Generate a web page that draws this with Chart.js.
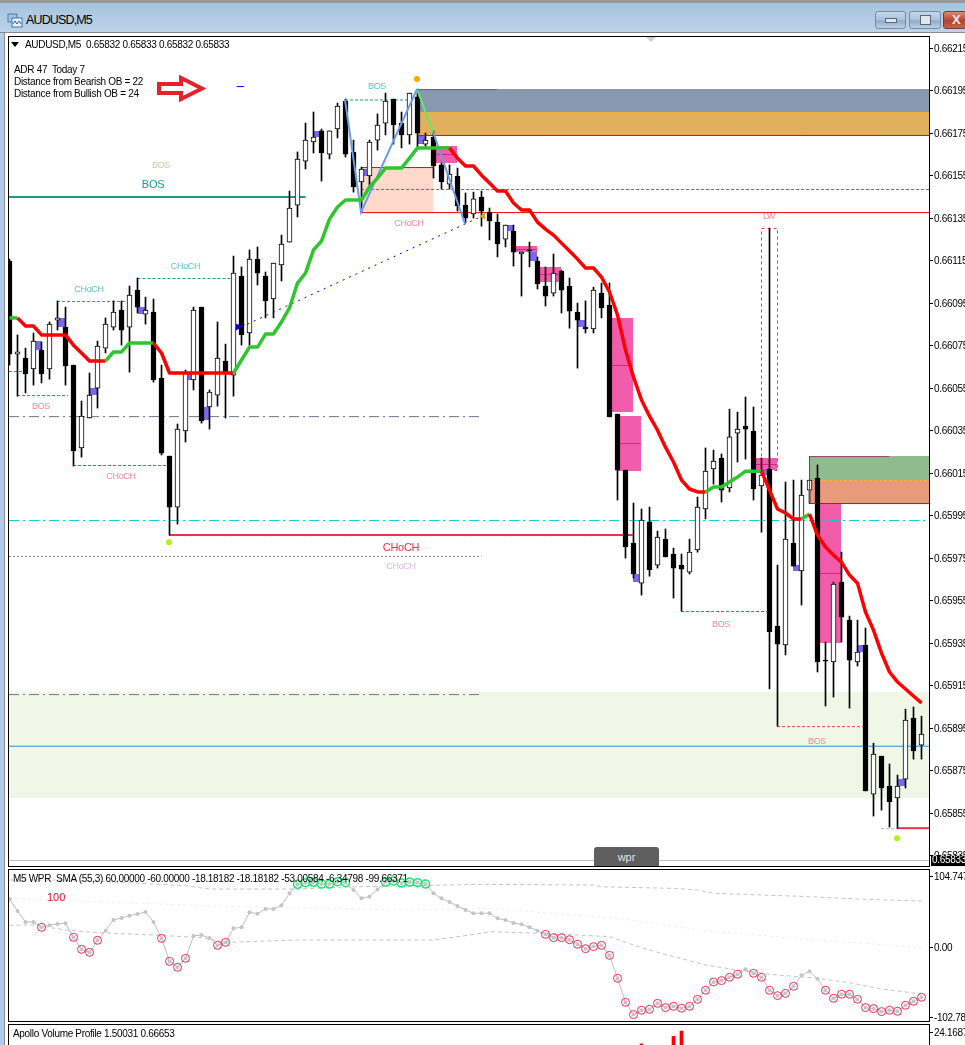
<!DOCTYPE html>
<html>
<head>
<meta charset="utf-8">
<title>AUDUSD,M5</title>
<script src="https://cdn.jsdelivr.net/npm/chart.js@4/dist/chart.umd.min.js"></script>
<style>
  html, body { margin: 0; width: 965px; height: 1045px; overflow: hidden; background: #fff; }
  body { position: relative; font: 10px 'Liberation Sans', sans-serif; letter-spacing: -.31px; color: #000; }
  canvas { position: absolute; left: 0; }
  .abs { position: absolute; white-space: pre; }
  .frame { position: absolute; box-sizing: border-box; border: 1px solid #000; pointer-events: none; }
  #titlebar { left: 0; top: 0; width: 965px; height: 33px; box-sizing: border-box;
    border-top: 3px solid #9a9a9a; border-bottom: 1px solid #8a8a8a;
    background: linear-gradient(#a6c3de, #bdd3e9); }
  #leftstrip { left: 0; top: 33px; width: 4px; height: 1012px; background: #b4cce8; border-right: 1px solid #8a8a8a; }
  .btn { position: absolute; top: 11px; height: 18px; box-sizing: border-box; border: 1px solid #7a8ca4; border-radius: 3px;
    background: linear-gradient(#c8d8ea 0%, #a9c1da 50%, #90abc8 55%, #bcd0e4 100%); }
  .btn i { position: absolute; display: block; box-sizing: border-box; background: #dfe6ee; border: 1px solid #5a6878; }
  #wprbtn { left: 594px; top: 847px; width: 65px; height: 19px; background: #5f5f5f; color: #e4e4e4; border-radius: 3px 3px 0 0;
    text-align: center; line-height: 20px; font-size: 11px; letter-spacing: 0; }
</style>
</head>
<body>
<div class="abs" id="titlebar"></div>
<div class="abs" id="leftstrip"></div>
<svg class="abs" style="left:7px;top:13px" width="16" height="15" viewBox="0 0 16 15">
  <rect x="1" y="1" width="9" height="8" fill="#9cc0e6" stroke="#4d7fb8"/>
  <rect x="5" y="5" width="10" height="9" fill="#e8f2fb" stroke="#3f74b0"/>
  <path d="M6 11 l2 -3 l2 3 l2 -3 l2 3" fill="none" stroke="#2a62a4"/>
</svg>
<div class="abs" style="left:26px;top:13px;font-size:12.5px;letter-spacing:-.85px">AUDUSD,M5</div>
<div class="btn" style="left:875px;width:31px"><i style="left:9px;top:6px;width:12px;height:5px"></i></div>
<div class="btn" style="left:909px;width:32px"><i style="left:10px;top:3px;width:11px;height:10px"></i></div>
<div class="btn" style="left:943px;width:24px;background:linear-gradient(#d98a78,#b8402c 55%,#c4644f);border-color:#7a3a30;color:#eee;font:bold 13px 'Liberation Sans';letter-spacing:0;line-height:15px;padding-left:8px">X</div>

<canvas id="mainChart" width="965" height="867" style="top:0"></canvas>
<canvas id="wprChart" width="965" height="153" style="top:869px"></canvas>
<canvas id="volChart" width="965" height="21" style="top:1024px"></canvas>

<div class="frame" style="left:8px;top:36px;width:922px;height:831px"></div>
<div class="frame" style="left:8px;top:869px;width:922px;height:153px"></div>
<div class="frame" style="left:8px;top:1024px;width:922px;height:40px"></div>

<svg class="abs" style="left:11px;top:42px" width="9" height="6"><path d="M0 0 H8 L4 5 Z" fill="#000"/></svg>
<div class="abs" style="left:25px;top:39px">AUDUSD,M5  0.65832 0.65833 0.65832 0.65833</div>
<div class="abs" style="left:14px;top:64px">ADR 47  Today 7</div>
<div class="abs" style="left:14px;top:76px">Distance from Bearish OB = 22</div>
<div class="abs" style="left:14px;top:88px">Distance from Bullish OB = 24</div>
<svg class="abs" style="left:155px;top:73px" width="52" height="32">
  <path d="M4 11 H26 V5 L47 15.5 L26 26 V20 H4 Z" fill="#fff" stroke="#e8202c" stroke-width="4"/>
</svg>
<svg class="abs" style="left:646px;top:37px" width="11" height="6"><path d="M0 0 H10 L5 5 Z" fill="#cfcfcf"/></svg>
<div class="abs" id="wprbtn">wpr</div>
<div class="abs" style="left:13px;top:873px">M5 WPR  SMA (55,3) 60.00000 -60.00000 -18.18182 -18.18182 -53.00584 -6.34798 -99.66371</div>
<div class="abs" style="left:47px;top:891px;color:#f01030;font-size:11px;letter-spacing:0">100</div>
<div class="abs" style="left:13px;top:1028px">Apollo Volume Profile 1.50031 0.66653</div>

<script>
/* ── candles ── */
const opens = [0.661148,0.660710,0.660691,0.660640,0.660729,0.660640,0.660870,0.660837,0.660658,0.660268,0.660409,0.660550,0.660738,0.660837,0.660917,0.660837,0.661011,0.660898,0.660908,0.660597,0.660230,0.659990,0.660348,0.660588,0.660931,0.660461,0.660517,0.660677,0.660611,0.661077,0.660809,0.661157,0.661077,0.660969,0.661129,0.661237,0.661411,0.661618,0.661708,0.661760,0.661651,0.661769,0.661901,0.661661,0.661520,0.661548,0.661717,0.661797,0.661910,0.661797,0.661741,0.661920,0.661698,0.661731,0.661600,0.661510,0.661548,0.661411,0.661369,0.661449,0.661378,0.661331,0.661251,0.661289,0.661181,0.661200,0.661148,0.661030,0.660997,0.661101,0.661030,0.660908,0.660837,0.660828,0.660997,0.660941,0.660428,0.660164,0.659821,0.659632,0.659920,0.659717,0.659839,0.659769,0.659717,0.659684,0.659788,0.659981,0.660169,0.660221,0.660080,0.660338,0.660371,0.660348,0.660089,0.660169,0.659430,0.659341,0.659821,0.659689,0.660070,0.660126,0.659270,0.659261,0.659637,0.659458,0.659261,0.659341,0.658639,0.658818,0.658677,0.658621,0.658710,0.658997,0.658870];
const highs = [0.661157,0.660800,0.660738,0.660809,0.660767,0.660861,0.660960,0.660931,0.660658,0.660489,0.660621,0.660771,0.660880,0.660960,0.660960,0.661030,0.661068,0.660978,0.660969,0.660658,0.660230,0.660381,0.660635,0.660931,0.660931,0.660541,0.660861,0.660757,0.661171,0.661120,0.661200,0.661214,0.661096,0.661138,0.661270,0.661477,0.661661,0.661797,0.661849,0.661769,0.661760,0.661891,0.661910,0.661717,0.661590,0.661717,0.661840,0.661938,0.661910,0.661849,0.661938,0.661957,0.661750,0.661760,0.661609,0.661600,0.661585,0.661468,0.661472,0.661477,0.661397,0.661369,0.661317,0.661317,0.661190,0.661237,0.661167,0.661120,0.661181,0.661105,0.661068,0.660950,0.660960,0.661025,0.661044,0.661044,0.660428,0.660164,0.660009,0.659981,0.659990,0.659877,0.659887,0.659797,0.659769,0.659839,0.660037,0.660268,0.660258,0.660240,0.660451,0.660437,0.660508,0.660461,0.660221,0.661303,0.659717,0.660108,0.660117,0.660117,0.660117,0.660188,0.659355,0.659637,0.659778,0.659477,0.659458,0.659421,0.658879,0.658818,0.658781,0.658729,0.659039,0.659049,0.659006];
const lows = [0.660658,0.660512,0.660527,0.660564,0.660574,0.660592,0.660823,0.660564,0.660183,0.660225,0.660409,0.660456,0.660715,0.660823,0.660752,0.660625,0.660903,0.660851,0.660578,0.660235,0.659858,0.659910,0.660296,0.660541,0.660385,0.660357,0.660465,0.660409,0.660512,0.660752,0.660752,0.661035,0.660880,0.660880,0.661054,0.661237,0.661355,0.661581,0.661656,0.661524,0.661628,0.661727,0.661637,0.661472,0.661378,0.661496,0.661670,0.661741,0.661698,0.661680,0.661698,0.661680,0.661680,0.661538,0.661487,0.661487,0.661383,0.661327,0.661350,0.661312,0.661247,0.661167,0.661214,0.661124,0.660983,0.661120,0.661016,0.660936,0.660983,0.660903,0.660832,0.660644,0.660809,0.660809,0.660880,0.660414,0.660023,0.659750,0.659656,0.659576,0.659665,0.659703,0.659755,0.659562,0.659501,0.659675,0.659778,0.659934,0.660098,0.660014,0.660061,0.660202,0.660216,0.660023,0.659872,0.659134,0.658959,0.659294,0.659712,0.659529,0.660009,0.659214,0.659054,0.659096,0.659355,0.659044,0.659242,0.658654,0.658536,0.658564,0.658484,0.658479,0.658668,0.658804,0.658804];
const closes = [0.660710,0.660720,0.660616,0.660771,0.660616,0.660851,0.660880,0.660654,0.660254,0.660418,0.660517,0.660748,0.660851,0.660908,0.660823,0.660988,0.660931,0.660917,0.660588,0.660244,0.659990,0.660357,0.660621,0.660917,0.660395,0.660531,0.660691,0.660621,0.661091,0.660800,0.661157,0.661091,0.660960,0.661138,0.661228,0.661397,0.661628,0.661717,0.661731,0.661656,0.661760,0.661877,0.661651,0.661496,0.661581,0.661708,0.661788,0.661901,0.661788,0.661741,0.661938,0.661750,0.661717,0.661595,0.661520,0.661557,0.661407,0.661350,0.661440,0.661383,0.661336,0.661228,0.661317,0.661190,0.661190,0.661195,0.661040,0.660983,0.661091,0.661011,0.660912,0.660870,0.660828,0.661011,0.660927,0.660414,0.660164,0.659802,0.659675,0.659929,0.659694,0.659849,0.659755,0.659703,0.659698,0.659778,0.659990,0.660159,0.660207,0.660070,0.660320,0.660357,0.660357,0.660075,0.660141,0.659402,0.659345,0.659839,0.659712,0.660047,0.660117,0.659261,0.659265,0.659628,0.659472,0.659270,0.659308,0.658654,0.658828,0.658668,0.658602,0.658677,0.658988,0.658842,0.658922];

/* trend moving average, green while inside a bull run */
const maLine = [0.660880,0.660880,0.660842,0.660842,0.660800,0.660800,0.660800,0.660800,0.660752,0.660715,0.660677,0.660677,0.660677,0.660720,0.660720,0.660762,0.660762,0.660762,0.660762,0.660715,0.660621,0.660621,0.660621,0.660621,0.660621,0.660621,0.660621,0.660621,0.660621,0.660682,0.660743,0.660743,0.660804,0.660804,0.660861,0.660927,0.661044,0.661091,0.661200,0.661242,0.661345,0.661402,0.661435,0.661435,0.661435,0.661496,0.661538,0.661585,0.661585,0.661585,0.661632,0.661680,0.661680,0.661680,0.661680,0.661680,0.661632,0.661595,0.661595,0.661552,0.661515,0.661477,0.661477,0.661421,0.661388,0.661388,0.661331,0.661298,0.661270,0.661232,0.661195,0.661157,0.661115,0.661115,0.661072,0.661002,0.660894,0.660729,0.660602,0.660494,0.660418,0.660352,0.660272,0.660202,0.660117,0.660075,0.660061,0.660061,0.660084,0.660084,0.660108,0.660131,0.660159,0.660159,0.660159,0.660070,0.659981,0.659962,0.659934,0.659934,0.659957,0.659858,0.659802,0.659764,0.659731,0.659670,0.659632,0.659496,0.659411,0.659303,0.659214,0.659167,0.659134,0.659101,0.659068];
const maBullRuns = [[0, 1], [12, 18], [28, 55], [87, 94], [99, 100]];

const priceTicks = [0.66215,0.66195,0.66175,0.66155,0.66135,0.66115,0.66095,0.66075,0.66055,0.66035,0.66015,0.65995,0.65975,0.65955,0.65935,0.65915,0.65895,0.65875,0.65855,0.65835];
const lastPrice = 0.658329;
const lastPriceLabel = '0.65833';

/* levels as [candle from, candle to, price] */
const START = -0.0625, END = 114.9375;
const redDashLevels = [[START,1.94,0.660630],[0.94,7.31,0.660517],[7.94,19.56,0.660188],[43.94,END,0.661487],[83.94,94.69,0.659501],[95.94,106.69,0.658959]];
const tealDashLevels = [[5.94,15,0.660960],[16,27.6,0.661068],[41.94,50.94,0.661908]];
const tealSolidLevels = [[START,37,0.661449]];
const slateDashDotLevels = [[START,59,0.660418],[START,59,0.659110]];
const cyanDashDotLevels = [[START,END,0.659929]];
const grayDashLevels = [[START,59,0.659760]];
const crimsonLevels = [[19.94,77.9,0.659858],[110.94,END,0.658479]];
const pinkDashLevels = [[19.94,77.9,0.659858],[108.94,110.94,0.658479]];
const redSolidLevels = [[43.94,END,0.661378],[43.94,52.94,0.661590],[50.94,END,0.661741],[99.94,END,0.660009]];
const zoneTopLevels = [[50.94,60.94,0.661957],[99.94,109.94,0.660230]];
const yellowDashLevels = [[50.94,END,0.661849],[99.94,END,0.660117]];
const bidLevels = [[START,END,lastPrice]];
const askLevels = [[START,END,0.658867]];
const blueTick = [[28.4,29.3,0.661971]];
const redTick = [[28.6,29.4,0.660851]];

/* zones as [candle from, candle to, top price, bottom price] */
const peachZones = [[43.94,52.94,0.661590,0.661378]];
const slateZones = [[50.94,END,0.661957,0.661849]];
const amberZones = [[50.94,END,0.661849,0.661741]];
const sageZones = [[99.94,END,0.660230,0.660117]];
const salmonZones = [[99.94,END,0.660117,0.660009]];
const paleZones = [[START,END,0.659119,0.658620]];
const pinkZones = [[52.94,55.94,0.661689,0.661609],[63.3,65.94,0.661218,0.661190],[66.3,68.94,0.661120,0.661049],[74.94,77.94,0.660880,0.660437],[75.94,78.94,0.660418,0.660159],[93.31,95.94,0.660221,0.660164],[101.31,103.94,0.660009,0.659350]];
const pinkMids = [0.661651,0.661204,0.661087,0.660658,0.660291,0.660192,0.659680];
const violetBoxes = [[3.31,3.94,0.660771,0.660729],[5.94,6.94,0.660880,0.660837],[10.06,10.94,0.660550,0.660517],[16.06,16.94,0.660931,0.660898],[22.31,22.94,0.660616,0.660588],[24.31,24.94,0.660461,0.660399],[37.94,38.81,0.661760,0.661731],[44.19,44.69,0.661581,0.661548],[50.94,51.94,0.661741,0.661698],[62.31,62.94,0.661317,0.661289],[65.06,65.94,0.661190,0.661148],[71.06,71.94,0.660870,0.660837],[77.94,78.69,0.659675,0.659637],[93.94,94.69,0.660169,0.660141],[97.94,98.69,0.659717,0.659689],[105.94,106.69,0.659341,0.659308],[111.06,111.94,0.658710,0.658677]];
const lwBox = [93.94,95.94,0.661303,0.660164];
const sideLine = [[100,0.660230],[100,0.660009]];

/* zigzag and markers as [candle, price] */
const zigzagBlueA = [[41.94,0.661906],[43.94,0.661378],[50.94,0.661957]];
const zigzagGreen = [[50.94,0.661957],[52.94,0.661755]];
const zigzagBlueB = [[52.94,0.661755],[56.94,0.661322]];
const trendDotted = [[28.94,0.660837],[59.06,0.661359]];
const swingHighDots = [[50.94,0.662004]];
const swingLowDots = [[19.94,0.659825],[110.94,0.658432]];
const goldMarker = [[59.19,0.661359]];
const blueMarker = [[28.56,0.660837]];

/* text on the chart as [text, candle, price] */
const tealLabels = [['CHoCH',22,0.661124],['CHoCH',9.94,0.661016],['BOS',45.94,0.661967]];
const pinkLabels = [['BOS',3.94,0.660461],['CHoCH',13.94,0.660136],['CHoCH',49.94,0.661322],['BOS',88.94,0.659435],['LW',94.94,0.661355],['BOS',100.94,0.658889]];
const paleGreenLabels = [['BOS',18.94,0.661595]];
const paleVioletLabels = [['CHoCH',48.94,0.659712]];
const bigTealLabels = [['BOS',17.94,0.661505]];
const bigRedLabels = [['CHoCH',48.94,0.659797]];

/* ── WPR pane ── */
const wprValues = [70.5,53.4,37.2,37.2,29.4,32.3,34.3,35.3,14.7,-3,-7.4,10.3,24.5,40.2,43.1,46.5,49,51.9,37.2,13.2,-20.6,-29.4,-16.2,16.6,18.1,13.7,2.9,7.3,27.9,29.4,51.4,49.5,56.3,56.3,61.7,79.4,92.6,95,95.5,93,93,96.5,95,84.3,72,74.5,85.2,96,97.5,94.5,96,95,93,79.4,72,66.6,60.7,54.9,50,50,50,42.6,40.2,35.7,33.8,29.4,24.5,19.1,14.2,14.2,11.2,4.4,-2,1,2.9,-11.8,-45.6,-80.9,-99,-92.6,-91.2,-82.4,-88.7,-86.8,-89.7,-86.8,-76.5,-63.2,-51,-49,-44.1,-39.7,-32.4,-38.3,-44.1,-63.2,-71.1,-67.7,-57.4,-41.2,-35.3,-46.1,-63.2,-75,-69.1,-69.1,-76.5,-88.7,-90.2,-94.6,-92.6,-94.1,-85.3,-79.4,-73.5];
const wprRedRings = [4,8,9,10,11,19,20,21,22,26,27,67,68,69,70,71,72,73,74,75,76,77,78,79,80,81,82,83,84,85,86,87,88,89,90,91,93,94,95,96,97,98,102,103,104,105,106,107,108,109,110,111,112,113,114];
const wprGreenRings = [36,37,38,39,40,41,42,47,48,49,50,51,52];
const wprUpperBand = [[0,99],[6,99],[14,95.5],[22,90.6],[25,85.7],[36,85.7],[42,88.7],[59,92.6],[73,91.6],[74,89],[83,86.7],[86,84.3],[88,79.4],[100,74.5],[106,71],[114,68]];
const wprLowerBand = [[0,32.3],[3,32.8],[7,25.5],[11,21.5],[18,18.1],[24,14.2],[27,7.3],[36,10.8],[45,10.8],[53,10.8],[59,20.5],[60,23],[67,20.5],[75,15.7],[78,3.4],[81,-7.4],[87,-26],[91,-33.4],[95,-39.7],[101,-45.6],[105,-52],[109,-61.3],[114,-68.6]];
const wprMidBand = [[0,72],[28,59.8],[49,54.9],[60,57.3],[76,42.6],[88,23],[101,10.8],[114,-0.5]];
const wprTicks = [104.747, 0, -102.787];
const wprTickLabels = ['104.747', '0.00', '-102.787'];

/* ── volume pane, only the tops of the bars are on screen ── */
const volIndex = [79, 83, 84];
const volValues = [19.9, 22.6, 24.5];
const volTicks = [24.1687];

const FONT = "'Liberation Sans', sans-serif";
const HALF_PIXEL = 0.00000235; // half a screen row in price, keeps 1px levels crisp
const xAxis = () => ({ type: 'linear', display: false, offset: false, min: START, max: END });
const rightAxis = (ticks, min, max, label) => ({
  type: 'linear',
  position: 'right',
  min, max,
  afterFit: scale => { scale.width = 36; scale.paddingTop = 0; scale.paddingBottom = 0; },
  afterBuildTicks: scale => { scale.ticks = ticks.map(value => ({ value })); },
  border: { display: false },
  grid: { drawOnChartArea: false, drawTicks: true, tickLength: 4, color: '#000' },
  ticks: { color: '#000', padding: 1, labelOffset: 1, autoSkip: false, maxRotation: 0, font: { family: FONT, size: 10 }, callback: label },
});
const baseOptions = padding => ({
  responsive: false,
  animation: false,
  events: [],
  layout: { autoPadding: false, padding },
  plugins: { legend: { display: false }, tooltip: { enabled: false } },
});

// every segment gets its own two point line
function levelSets(segments, style) {
  const nudge = style.borderWidth === 1 ? HALF_PIXEL : 0;
  return segments.map(([from, to, price]) => ({
    type: 'line',
    data: [{ x: from, y: price - nudge }, { x: to, y: price - nudge }],
    pointRadius: 0,
    borderCapStyle: 'butt',
    order: 5,
    ...style,
  }));
}
function pathSet(points, style) {
  return {
    type: 'line',
    data: points.map(([x, y]) => ({ x, y })),
    pointRadius: 0,
    order: 3,
    ...style,
  };
}
function markerSet(points, style) {
  return { type: 'line', showLine: false, data: points.map(([x, y]) => ({ x, y })), order: 1, ...style };
}

// ── Plugin: zones under the candles ──
const zonesPlugin = {
  id: 'zones',
  beforeDatasetsDraw(chart) {
    const { ctx, scales: { x, y } } = chart;
    const fill = (boxes, color) => {
      ctx.fillStyle = color;
      boxes.forEach(([a, b, top, bottom]) => {
        const left = Math.round(x.getPixelForValue(a));
        const right = Math.round(x.getPixelForValue(b));
        const t = Math.round(y.getPixelForValue(top));
        ctx.fillRect(left, t, right - left, Math.round(y.getPixelForValue(bottom)) - t);
      });
    };
    ctx.save();
    fill(paleZones, '#f1f7e7');
    fill(peachZones, '#ffd9cc');
    fill(slateZones, '#8898ae');
    fill(amberZones, '#e1b05c');
    fill(sageZones, '#8fbb8f');
    fill(salmonZones, '#ea9a7c');
    fill(pinkZones, '#f25cab');
    fill(violetBoxes, '#7b68ee');
    ctx.fillStyle = '#e0208a';
    pinkZones.forEach(([a, b], i) => {
      const left = Math.round(x.getPixelForValue(a));
      ctx.fillRect(left, Math.round(y.getPixelForValue(pinkMids[i])), Math.round(x.getPixelForValue(b)) - left, 1);
    });
    // LW box
    const [a, b, top, bottom] = lwBox;
    ctx.strokeStyle = '#e33a4e';
    ctx.setLineDash([3, 3]);
    ctx.strokeRect(Math.round(x.getPixelForValue(a)) + 0.5, Math.round(y.getPixelForValue(top)) + 0.5,
      Math.round(x.getPixelForValue(b) - x.getPixelForValue(a)), Math.round(y.getPixelForValue(bottom) - y.getPixelForValue(top)));
    ctx.restore();
  },
};

// ── Plugin: BOS / CHoCH text and the last price box ──
const labelsPlugin = {
  id: 'labels',
  afterDatasetsDraw(chart) {
    const { ctx, scales: { x, y } } = chart;
    const write = (items, color, size) => {
      ctx.fillStyle = color;
      ctx.font = `${size}px ${FONT}`;
      items.forEach(([text, i, price]) => ctx.fillText(text, x.getPixelForValue(i), y.getPixelForValue(price)));
    };
    ctx.save();
    ctx.textAlign = 'center';
    ctx.textBaseline = 'middle';
    write(tealLabels, '#55c8c8', 9);
    write(pinkLabels, '#f08a96', 9);
    write(paleGreenLabels, '#c0d0a0', 9);
    write(paleVioletLabels, '#d0b8e8', 9);
    write(bigTealLabels, '#1a9a88', 11);
    write(bigRedLabels, '#e83048', 11);
    ctx.restore();
  },
  afterDraw(chart) {
    const { ctx, scales: { y } } = chart;
    const py = y.getPixelForValue(lastPrice);
    ctx.save();
    ctx.fillStyle = '#000';
    ctx.fillRect(931, py - 5, 34, 11);
    ctx.fillStyle = '#fff';
    ctx.font = `10px ${FONT}`;
    ctx.textBaseline = 'middle';
    ctx.fillText(lastPriceLabel, 932, py + 0.5);
    ctx.restore();
  },
};

// ── main pane ──
const candleIdx = opens.map((_, i) => i);
const inBullRun = i => maBullRuns.some(([a, b]) => i >= a && i < b);

new Chart(document.getElementById('mainChart'), {
  type: 'bar',
  plugins: [zonesPlugin, labelsPlugin],
  data: {
    datasets: [
      ...levelSets(askLevels, { borderColor: '#2d8ce0', borderWidth: 1 }),
      ...levelSets(bidLevels, { borderColor: '#c0c0c0', borderWidth: 1 }),
      ...levelSets(slateDashDotLevels, { borderColor: '#667a8c', borderWidth: 1, borderDash: [10, 4, 2, 4] }),
      ...levelSets(cyanDashDotLevels, { borderColor: '#00d0d0', borderWidth: 1, borderDash: [10, 4, 2, 4] }),
      ...levelSets(grayDashLevels, { borderColor: '#808080', borderWidth: 1, borderDash: [2, 2] }),
      ...levelSets(tealSolidLevels, { borderColor: '#1a9a88', borderWidth: 2 }),
      ...levelSets(tealDashLevels, { borderColor: '#1a9a88', borderWidth: 1, borderDash: [3, 2] }),
      ...levelSets(redDashLevels, { borderColor: '#e33a4e', borderWidth: 1, borderDash: [3, 2] }),
      ...levelSets(crimsonLevels, { borderColor: '#ef2f48', borderWidth: 2 }),
      ...levelSets(pinkDashLevels, { borderColor: '#d9a0d9', borderWidth: 1, borderDash: [3, 2] }),
      ...levelSets(redSolidLevels, { borderColor: '#f00000', borderWidth: 1 }),
      ...levelSets(zoneTopLevels, { borderColor: '#a04070', borderWidth: 1 }),
      ...levelSets(yellowDashLevels, { borderColor: '#ffb020', borderWidth: 1, borderDash: [3, 2] }),
      ...levelSets(blueTick, { borderColor: '#0000e0', borderWidth: 1 }),
      ...levelSets(redTick, { borderColor: '#f00000', borderWidth: 1 }),
      pathSet(sideLine, { borderColor: '#556', borderWidth: 1 }),
      pathSet(zigzagBlueA, { borderColor: '#6a9be8', borderWidth: 2 }),
      pathSet(zigzagGreen, { borderColor: '#60e870', borderWidth: 2 }),
      pathSet(zigzagBlueB, { borderColor: '#6a9be8', borderWidth: 2 }),
      pathSet(trendDotted, { borderColor: '#0000e0', borderWidth: 1, borderDash: [2, 5] }),
      {
        label: 'wicks',
        type: 'bar',
        grouped: false,
        data: candleIdx.map(i => ({ x: i, y: [lows[i], highs[i]] })),
        barThickness: 1,
        backgroundColor: '#000',
        borderWidth: 0,
        order: 4,
      },
      {
        label: 'bodies',
        type: 'bar',
        grouped: false,
        data: candleIdx.map(i => ({ x: i, y: [Math.min(opens[i], closes[i]), Math.max(opens[i], closes[i])] })),
        barThickness: 5,
        backgroundColor: ctx => (closes[ctx.dataIndex] >= opens[ctx.dataIndex] ? '#fff' : '#000'),
        borderColor: '#000',
        borderWidth: 1,
        borderSkipped: false,
        order: 3.5,
      },
      {
        label: 'trend',
        type: 'line',
        data: candleIdx.map(i => ({ x: i, y: maLine[i] })),
        borderWidth: 3.5,
        borderColor: '#ff0000',
        borderJoinStyle: 'round',
        pointRadius: 0,
        segment: { borderColor: ctx => (inBullRun(ctx.p0DataIndex) ? '#2ec52e' : '#ff0000') },
        order: 2,
      },
      markerSet(swingHighDots, { pointStyle: 'circle', pointRadius: 3, pointBackgroundColor: '#ffa500', pointBorderWidth: 0 }),
      markerSet(swingLowDots, { pointStyle: 'circle', pointRadius: 3, pointBackgroundColor: '#b0f020', pointBorderWidth: 0 }),
      markerSet(goldMarker, { pointStyle: 'triangle', rotation: -90, pointRadius: 4, pointBackgroundColor: '#d8a030', pointBorderWidth: 0 }),
      markerSet(blueMarker, { pointStyle: 'triangle', rotation: 90, pointRadius: 4, pointBackgroundColor: '#0000e0', pointBorderWidth: 0 }),
    ],
  },
  options: {
    ...baseOptions({ left: 9, top: 37, bottom: 1 }),
    scales: {
      x: xAxis(),
      y: rightAxis(priceTicks, 0.658301, 0.662202, v => v.toFixed(5)),
    },
  },
});

// ── WPR pane ──
const ringPoints = list => list.map(i => [i, wprValues[i]]);
new Chart(document.getElementById('wprChart'), {
  type: 'line',
  data: {
    datasets: [
      pathSet(wprMidBand, { borderColor: '#eeeeee', borderWidth: 1, borderDash: [3, 3] }),
      pathSet(wprUpperBand, { borderColor: '#c4c4c4', borderWidth: 1, borderDash: [4, 3] }),
      pathSet(wprLowerBand, { borderColor: '#c4c4c4', borderWidth: 1, borderDash: [4, 3] }),
      {
        label: 'wpr',
        data: candleIdx.map(i => ({ x: i, y: wprValues[i] })),
        borderColor: '#bdbdbd',
        borderWidth: 1,
        pointRadius: 2,
        pointBackgroundColor: '#c4c4c4',
        pointBorderWidth: 0,
        order: 2,
      },
      markerSet(ringPoints(wprRedRings), { pointStyle: 'circle', pointRadius: 4, pointBackgroundColor: 'transparent', pointBorderColor: '#ee2c5c', pointBorderWidth: 1 }),
      markerSet(ringPoints(wprGreenRings), { pointStyle: 'circle', pointRadius: 4, pointBackgroundColor: 'transparent', pointBorderColor: '#12e86a', pointBorderWidth: 1.5 }),
    ],
  },
  options: {
    ...baseOptions({ left: 9, top: 1, bottom: 1 }),
    scales: {
      x: xAxis(),
      y: rightAxis(wprTicks, -108.4, 113.7, (v, i) => wprTickLabels[i]),
    },
  },
});

// ── volume pane ──
new Chart(document.getElementById('volChart'), {
  type: 'bar',
  data: {
    datasets: [{
      grouped: false,
      data: volIndex.map((x, i) => ({ x, y: volValues[i] })),
      backgroundColor: '#ff0000',
      barThickness: 3,
    }],
  },
  options: {
    ...baseOptions({ left: 9, top: 1 }),
    scales: {
      x: xAxis(),
      y: rightAxis(volTicks, 19.5, 26.7, v => v.toFixed(4)),
    },
  },
});
</script>
</body>
</html>
